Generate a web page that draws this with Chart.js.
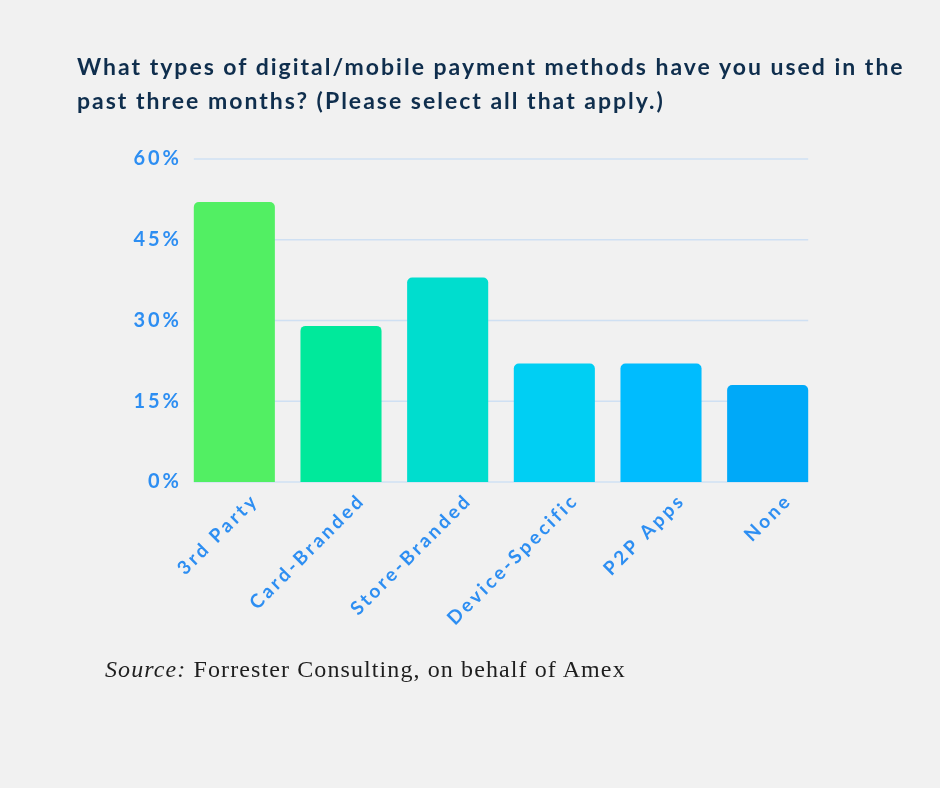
<!DOCTYPE html>
<html>
<head>
<meta charset="utf-8">
<script src="https://cdn.jsdelivr.net/npm/chart.js@4.4.1/dist/chart.umd.min.js"></script>
<style>
  html, body { margin: 0; padding: 0; background: #f1f1f1; }
  #wrap { position: relative; width: 940px; height: 788px; overflow: hidden; }
  #chart { position: absolute; left: 0; top: 0; }
  .title {
    position: absolute; left: 77px; top: 49px; margin: 0;
    font: 700 23px Lato, sans-serif; letter-spacing: 2px; line-height: 34px;
    color: #0f2e4d;
  }
  .source {
    position: absolute; left: 105px; top: 656px; margin: 0;
    font: 24px "Liberation Serif", serif; letter-spacing: 1.1px; color: #1e1e1e;
  }
</style>
</head>
<body>
<div id="wrap">
  <canvas id="chart" width="940" height="788"></canvas>
  <p class="title">What types of digital/mobile payment methods have you used in the<br>past three months? (Please select all that apply.)</p>
  <p class="source"><i>Source:</i> Forrester Consulting, on behalf of Amex</p>
</div>
<script>
const categories = ['3rd Party', 'Card-Branded', 'Store-Branded', 'Device-Specific', 'P2P Apps', 'None'];
const usage = [52, 29, 38, 22, 22, 18];
const yTicks = [0, 15, 30, 45, 60];
const barColors = ['#52ef63', '#00e99b', '#00ddce', '#00cff3', '#00bcfe', '#00a9f8'];

const tickBlue = '#2d8ef2';

// grid lines only span from first bar's left edge to last bar's right edge
const gridPlugin = {
  id: 'barGrid',
  beforeDatasetsDraw(chart) {
    const bars = chart.getDatasetMeta(0).data;
    if (!bars.length) return;
    const first = bars[0], last = bars[bars.length - 1];
    const x0 = first.x - first.width / 2;
    const x1 = last.x + last.width / 2;
    const ctx = chart.ctx;
    ctx.save();
    ctx.strokeStyle = '#cfe0f3';
    ctx.lineWidth = 1.5;
    chart.scales.y.ticks.forEach(t => {
      const y = chart.scales.y.getPixelForValue(t.value);
      ctx.beginPath();
      ctx.moveTo(x0, y);
      ctx.lineTo(x1, y);
      ctx.stroke();
    });
    ctx.restore();
  },
};

// wider tick lettering: y labels draw before the bars, x labels after them
const spacingPlugin = {
  id: 'spacing',
  beforeLayout(chart) { chart.ctx.letterSpacing = '1.8px'; },
  beforeDraw(chart) { chart.ctx.letterSpacing = '3px'; },
  afterDatasetsDraw(chart) { chart.ctx.letterSpacing = '1.8px'; },
};

const ctx = document.getElementById('chart').getContext('2d');
new Chart(ctx, {
  type: 'bar',
  data: {
    labels: categories,
    datasets: [{
      data: usage,
      backgroundColor: barColors,
      borderRadius: { topLeft: 5, topRight: 5 },
      borderSkipped: 'bottom',
      barPercentage: 0.76,
      categoryPercentage: 1,
    }],
  },
  options: {
    responsive: false,
    animation: false,
    layout: { padding: { left: 81, right: 119, top: 159, bottom: 156 } },
    plugins: {
      legend: { display: false },
      tooltip: { enabled: false },
    },
    scales: {
      x: {
        z: 1,
        grid: { display: false, drawTicks: false },
        border: { display: false },
        afterFit(scale) { scale.height = 150; },
        ticks: {
          color: tickBlue,
          font: { family: 'Lato', size: 19, weight: 'bold' },
          minRotation: 45,
          maxRotation: 45,
          padding: 7,
          labelOffset: 21,
        },
      },
      y: {
        min: 0,
        max: 60,
        grid: { display: false, drawTicks: false },
        border: { display: false },
        afterFit(scale) { scale.width = 100; },
        afterBuildTicks(scale) { scale.ticks = yTicks.map(v => ({ value: v })); },
        ticks: {
          color: tickBlue,
          font: { family: 'Lato', size: 20, weight: 'bold' },
          padding: -1,
          callback: v => v + '%',
        },
      },
    },
  },
  plugins: [gridPlugin, spacingPlugin],
});
</script>
</body>
</html>
